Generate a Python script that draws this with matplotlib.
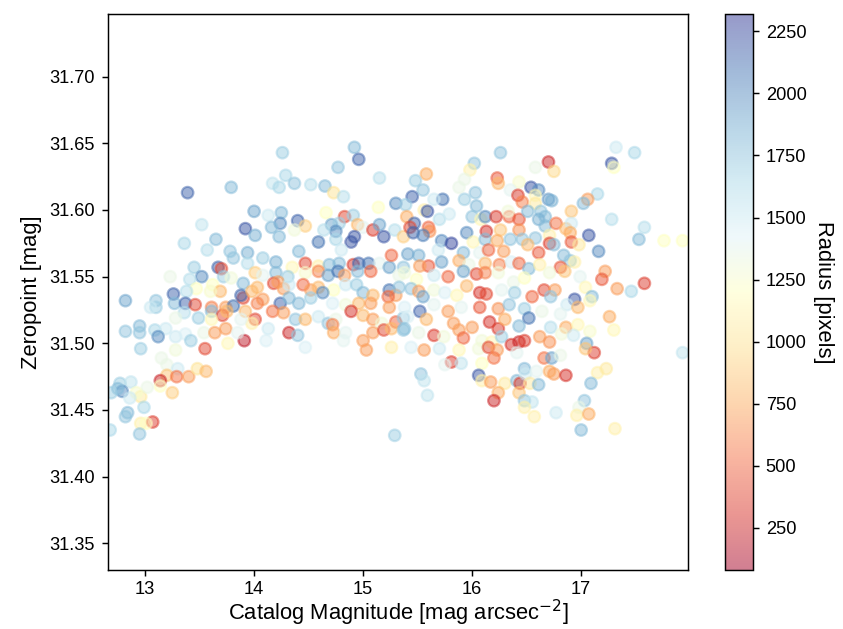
import matplotlib
matplotlib.use("Agg")
import matplotlib.pyplot as plt
import numpy as np

plt.rcParams["font.family"] = ["Liberation Sans", "DejaVu Sans"]

# catalog magnitude, zeropoint, radius, grouped by region
mag = [
    # upper left
    13.39, 13.79, 14.00, 13.52, 13.92, 14.01, 13.65, 13.36,
    14.92, 14.26, 14.96, 14.77, 14.29, 15.15, 14.17, 14.23, 14.37, 14.52, 14.65, 14.73, 14.82,
    15.30, 15.14, 14.25, 14.13, 14.40, 14.24, 14.16, 14.47, 14.37, 14.66, 14.83, 14.91, 14.71,
    14.78, 14.95, 15.00, 15.09, 15.15, 14.75, 14.64, 15.29, 14.23, 14.92, 14.75, 14.59, 14.89,
    15.19, 15.37,
    # upper middle
    16.26, 16.02, 16.70, 15.98, 16.58, 15.58, 16.23, 16.24, 15.93, 15.88, 16.43, 16.35, 15.48,
    15.55, 16.54, 16.61, 16.58, 16.42, 16.46, 16.58, 16.70, 16.03, 15.45, 15.73, 15.65, 15.93,
    15.39, 16.04, 15.56, 15.59, 15.70, 15.79, 16.00, 16.08, 16.12, 16.22, 16.34, 16.43, 16.33,
    16.51, 16.63, 16.67, 16.61, 16.67, 15.40, 15.47, 15.43, 15.60, 15.61, 15.46, 15.55, 15.95,
    16.13, 16.26, 16.43, 15.72, 15.81, 16.01, 16.12, 16.23, 16.35, 16.46, 16.58, 16.71,
    # upper right
    17.32, 17.49, 17.28, 17.30, 16.75, 17.15, 17.06, 17.02, 16.73, 16.91, 17.28, 17.58, 16.77,
    16.86, 16.91, 17.07, 16.90, 16.91, 17.53, 17.76, 17.93,
    # left
    13.57, 13.78, 13.94, 13.81, 13.45, 13.52, 13.67, 13.70, 13.41, 13.23, 13.72, 13.94, 14.01,
    13.90, 13.79, 13.62, 13.47, 13.38, 13.69, 13.60, 13.26, 12.82, 13.10, 13.27, 13.37, 13.46,
    13.61, 13.61, 13.10, 13.05, 13.74, 13.81, 13.90, 13.88, 13.98, 14.03, 13.71, 13.75, 13.92,
    13.36, 13.49, 13.61, 13.28, 14.01, 13.98, 13.88, 12.82, 12.95, 12.95, 13.09, 13.19, 13.12,
    13.28, 13.37, 13.42, 13.54, 13.64, 13.74, 13.76, 13.91, 13.55, 13.85, 12.96, 13.28,
    # lower left
    13.15, 13.20, 13.30, 13.20, 13.14, 13.29, 13.40, 13.48, 13.56, 13.25, 13.14, 12.77, 12.87,
    12.79, 12.75, 12.69, 12.96, 13.02, 12.92, 12.86, 12.99, 12.84, 12.82, 12.96, 13.07, 13.01,
    12.95, 12.68,
    # centre left
    14.41, 14.80, 14.20, 14.08, 14.47, 14.35, 14.59, 14.69, 14.78, 14.91, 14.96, 15.05, 15.15,
    15.24, 15.26, 15.37, 15.33, 14.59, 14.68, 14.77, 14.83, 14.95, 15.07, 14.20, 14.08, 14.31,
    14.47, 14.18, 14.22, 14.27, 14.32, 14.45, 14.52, 14.59, 14.73, 14.63, 14.84, 14.94, 15.00,
    15.09, 15.24, 15.30, 15.23, 15.33, 14.08, 14.03, 14.24, 14.32, 14.41, 14.52, 14.72, 14.84,
    14.96, 15.07, 15.24, 14.17, 14.27, 14.38, 14.47, 14.59, 14.68, 14.75, 14.89, 15.00, 15.09,
    15.17, 15.30, 15.37, 14.13, 14.32, 14.40, 14.72, 14.73, 14.84, 15.00, 15.09, 15.19, 15.26,
    15.37, 14.11, 14.47, 14.82, 15.03, 15.26, 15.29,
    # centre right
    15.41, 15.51, 15.69, 15.92, 16.07, 16.15, 16.29, 16.51, 16.61, 16.71, 15.72, 15.60, 15.52,
    15.88, 15.97, 16.12, 16.25, 16.36, 16.43, 16.52, 16.62, 15.92, 16.04, 16.12, 16.24, 15.38,
    15.49, 15.65, 15.78, 16.38, 16.48, 15.95, 16.07, 16.13, 15.44, 15.51, 15.55, 15.65, 15.75,
    15.86, 16.27, 16.39, 16.55, 16.66, 15.38, 15.52, 15.65, 15.78, 15.90, 16.07, 16.24, 16.34,
    16.48, 16.64, 15.41, 15.58, 15.83, 16.00, 16.16, 16.24, 16.30, 16.43, 16.52, 15.38, 15.51,
    15.65, 15.74, 15.88, 15.92, 16.09, 16.18, 16.27, 16.36, 16.43, 16.48, 16.62, 16.71, 15.44,
    15.56, 15.70, 15.88, 16.06, 16.15, 16.23,
    # lower centre
    15.81, 15.90, 15.75, 16.09, 16.20, 16.41, 16.66, 15.53, 15.56, 16.06, 16.09, 16.17, 16.30,
    16.41, 16.44, 16.48, 16.49, 16.53, 16.59, 16.61, 16.71, 16.24, 16.20, 16.43, 16.48, 16.55,
    16.48, 16.57, 15.59,
    # lower right
    16.73, 16.81, 16.75, 16.86, 17.15, 17.23, 17.09, 17.03, 16.98, 16.96, 17.07, 16.77, 17.00,
    17.31, 17.93,
    # right
    16.75, 16.98, 17.16, 16.84, 16.90, 16.94, 16.81, 16.85, 16.71, 16.99, 17.22, 17.19, 17.33,
    17.46, 17.58, 16.76, 17.04, 16.72, 16.94, 17.10, 17.08, 16.87, 16.97, 16.81, 17.26, 16.72,
    16.86, 16.97, 16.82, 16.93, 17.08, 17.30, 17.05, 17.12, 17.04,
]

zeropoint = [
    # upper left
    31.613, 31.617, 31.599, 31.589, 31.586, 31.581, 31.578, 31.575,
    31.647, 31.643, 31.638, 31.632, 31.626, 31.624, 31.620, 31.617, 31.620, 31.619, 31.618,
    31.613, 31.610, 31.605, 31.602, 31.598, 31.596, 31.592, 31.590, 31.587, 31.588, 31.585,
    31.598, 31.595, 31.596, 31.589, 31.590, 31.589, 31.587, 31.585, 31.589, 31.584, 31.585,
    31.585, 31.580, 31.580, 31.578, 31.576, 31.576, 31.580, 31.580,
    # upper middle
    31.643, 31.635, 31.636, 31.630, 31.632, 31.627, 31.624, 31.620, 31.623, 31.617, 31.621,
    31.615, 31.622, 31.615, 31.617, 31.615, 31.611, 31.611, 31.606, 31.605, 31.608, 31.613,
    31.610, 31.608, 31.608, 31.608, 31.604, 31.603, 31.600, 31.599, 31.593, 31.597, 31.595,
    31.593, 31.595, 31.595, 31.595, 31.593, 31.599, 31.599, 31.599, 31.595, 31.593, 31.588,
    31.595, 31.590, 31.587, 31.587, 31.584, 31.583, 31.581, 31.583, 31.584, 31.585, 31.585,
    31.577, 31.575, 31.576, 31.578, 31.577, 31.578, 31.578, 31.579, 31.581,
    # upper right
    31.647, 31.643, 31.635, 31.632, 31.629, 31.612, 31.608, 31.605, 31.607, 31.599, 31.593,
    31.587, 31.590, 31.586, 31.590, 31.581, 31.583, 31.576, 31.578, 31.577, 31.577,
    # left
    31.570, 31.569, 31.568, 31.564, 31.557, 31.550, 31.557, 31.556, 31.548, 31.550, 31.550,
    31.560, 31.553, 31.545, 31.549, 31.544, 31.541, 31.539, 31.539, 31.539, 31.537, 31.532,
    31.532, 31.530, 31.530, 31.529, 31.527, 31.524, 31.527, 31.527, 31.527, 31.528, 31.534,
    31.536, 31.539, 31.542, 31.521, 31.524, 31.524, 31.523, 31.519, 31.518, 31.519, 31.518,
    31.515, 31.518, 31.509, 31.513, 31.508, 31.510, 31.511, 31.505, 31.505, 31.507, 31.502,
    31.508, 31.508, 31.511, 31.500, 31.502, 31.496, 31.508, 31.496, 31.495,
    # lower left
    31.489, 31.484, 31.481, 31.476, 31.472, 31.475, 31.475, 31.481, 31.479, 31.463, 31.468,
    31.470, 31.471, 31.464, 31.466, 31.463, 31.460, 31.467, 31.463, 31.459, 31.452, 31.448,
    31.445, 31.440, 31.441, 31.440, 31.432, 31.435,
    # centre left
    31.569, 31.570, 31.561, 31.564, 31.560, 31.557, 31.558, 31.559, 31.560, 31.559, 31.560,
    31.560, 31.560, 31.557, 31.566, 31.557, 31.551, 31.554, 31.551, 31.554, 31.551, 31.554,
    31.554, 31.553, 31.551, 31.550, 31.553, 31.545, 31.546, 31.541, 31.544, 31.544, 31.540,
    31.542, 31.540, 31.538, 31.544, 31.544, 31.538, 31.536, 31.540, 31.536, 31.535, 31.542,
    31.533, 31.530, 31.530, 31.534, 31.530, 31.534, 31.530, 31.529, 31.530, 31.530, 31.527,
    31.524, 31.523, 31.518, 31.518, 31.520, 31.515, 31.518, 31.524, 31.521, 31.518, 31.515,
    31.516, 31.519, 31.511, 31.508, 31.506, 31.514, 31.508, 31.508, 31.502, 31.508, 31.510,
    31.511, 31.510, 31.502, 31.497, 31.502, 31.495, 31.497, 31.431,
    # centre right
    31.567, 31.566, 31.570, 31.568, 31.568, 31.570, 31.569, 31.574, 31.568, 31.575, 31.561,
    31.558, 31.558, 31.562, 31.559, 31.560, 31.559, 31.561, 31.560, 31.556, 31.559, 31.554,
    31.552, 31.553, 31.553, 31.553, 31.548, 31.551, 31.550, 31.546, 31.549, 31.543, 31.538,
    31.537, 31.541, 31.539, 31.535, 31.540, 31.538, 31.536, 31.540, 31.538, 31.535, 31.540,
    31.527, 31.524, 31.529, 31.524, 31.527, 31.527, 31.526, 31.529, 31.526, 31.524, 31.520,
    31.518, 31.515, 31.512, 31.516, 31.511, 31.518, 31.513, 31.519, 31.511, 31.508, 31.506,
    31.505, 31.510, 31.504, 31.502, 31.501, 31.505, 31.499, 31.501, 31.502, 31.505, 31.501,
    31.497, 31.495, 31.496, 31.495, 31.496, 31.497, 31.495,
    # lower centre
    31.486, 31.485, 31.484, 31.485, 31.489, 31.493, 31.489, 31.477, 31.472, 31.476, 31.472,
    31.471, 31.470, 31.472, 31.470, 31.481, 31.477, 31.470, 31.479, 31.469, 31.479, 31.463,
    31.457, 31.463, 31.457, 31.456, 31.452, 31.445, 31.461,
    # lower right
    31.489, 31.491, 31.477, 31.476, 31.478, 31.481, 31.470, 31.457, 31.452, 31.446, 31.447,
    31.448, 31.435, 31.436, 31.493,
    # right
    31.574, 31.574, 31.569, 31.566, 31.562, 31.561, 31.557, 31.554, 31.553, 31.550, 31.554,
    31.548, 31.541, 31.539, 31.545, 31.540, 31.542, 31.535, 31.533, 31.535, 31.532, 31.529,
    31.527, 31.522, 31.520, 31.512, 31.512, 31.514, 31.507, 31.506, 31.509, 31.510, 31.500,
    31.493, 31.496,
]

radius = [
    # upper left
    2150, 1800, 1900, 1550, 2200, 1850, 1800, 1650,
    1800, 1700, 2150, 1750, 1650, 1600, 1550, 1650, 1750, 1600, 1800, 1000, 1600, 2000, 1200,
    1800, 1500, 2150, 2000, 1800, 900, 1300, 1200, 400, 1700, 1900, 1700, 800, 1400, 350,
    1900, 2000, 1600, 1600, 1800, 2200, 1650, 2100, 2200, 2200, 900,
    # upper middle
    1750, 1750, 250, 1100, 1350, 750, 450, 800, 1350, 1350, 1250, 1400, 1700, 1750, 2200,
    2000, 1150, 350, 600, 1050, 1950, 1750, 2150, 2100, 1500, 1700, 1700, 1800, 1100, 2200,
    1600, 1500, 1750, 1150, 2000, 350, 500, 450, 1300, 1800, 1750, 1800, 1850, 1800, 750,
    2150, 400, 500, 650, 2150, 2050, 2000, 300, 850, 650, 2000, 2250, 1150, 1800, 750, 1750,
    1750, 1750, 1100,
    # upper right
    1500, 1650, 2200, 1200, 950, 1650, 700, 1800, 1850, 850, 1600, 1600, 550, 800, 1500,
    2200, 750, 450, 1800, 1200, 1200,
    # left
    1600, 1750, 1850, 1750, 1700, 2000, 2150, 400, 1600, 1350, 1700, 1600, 900, 1800, 1300,
    1200, 1200, 1600, 800, 1250, 2150, 1900, 1750, 1800, 2150, 400, 600, 1800, 1700, 1500,
    700, 2100, 400, 2150, 800, 800, 400, 800, 800, 1600, 1700, 1150, 1350, 400, 1100, 1400,
    1750, 1800, 1750, 1650, 1500, 2000, 1500, 1450, 1700, 1350, 700, 700, 1150, 200, 400,
    1400, 1700, 1300,
    # lower left
    1350, 1350, 1500, 850, 250, 550, 700, 1000, 800, 900, 1200, 1700, 1550, 2000, 1800, 1700,
    1050, 1350, 1250, 1500, 1650, 1800, 1750, 1100, 350, 1200, 1750, 1650,
    # centre left
    1800, 1500, 1850, 1700, 400, 1150, 1100, 1800, 1800, 350, 2150, 2100, 1400, 1900, 500,
    1750, 1350, 600, 1900, 2100, 700, 1800, 500, 1800, 1400, 1700, 1250, 400, 700, 700, 1500,
    500, 700, 800, 1200, 2000, 1500, 1700, 1800, 800, 2100, 700, 500, 1750, 700, 600, 2150,
    1800, 1800, 1700, 1450, 1300, 800, 700, 700, 550, 700, 1750, 800, 1500, 1750, 1350, 300,
    800, 700, 1300, 500, 1750, 1500, 250, 1750, 600, 750, 1400, 700, 700, 400, 800, 1750,
    1450, 1450, 1400, 700, 1100, 1700,
    # centre right
    1900, 1850, 1500, 1800, 1400, 500, 700, 800, 450, 350, 1900, 450, 700, 750, 1350, 800,
    600, 1450, 500, 1800, 1100, 1900, 400, 600, 1300, 1300, 1200, 1500, 500, 1350, 1200, 800,
    300, 400, 1750, 700, 1900, 1300, 1450, 1150, 1400, 1700, 500, 400, 1450, 2150, 1400, 700,
    1400, 450, 650, 1750, 1700, 1350, 1450, 800, 700, 700, 300, 350, 750, 1800, 2100, 1750,
    1350, 350, 1300, 700, 500, 1300, 1150, 1700, 300, 250, 350, 700, 650, 1450, 700, 1500,
    1150, 1300, 400, 700,
    # lower centre
    350, 1550, 1400, 1200, 550, 1400, 550, 1750, 1550, 2200, 1100, 700, 1050, 1800, 350, 1800,
    1500, 1050, 1400, 1800, 750, 750, 250, 850, 1750, 1550, 1100, 1100, 1550,
    # lower right
    1900, 1350, 700, 300, 1100, 1050, 1800, 1750, 1350, 1100, 750, 1500, 1800, 1100, 1550,
    # right
    1800, 1050, 2000, 1800, 1750, 1100, 450, 850, 1300, 1400, 700, 450, 700, 1650, 350, 700,
    1150, 1750, 2200, 1800, 1150, 1500, 800, 1400, 750, 1600, 750, 1150, 1300, 1500, 1250,
    1150, 1900, 350, 850,
]

yticks = [31.35, 31.40, 31.45, 31.50, 31.55, 31.60, 31.65, 31.70]
xticks = [13, 14, 15, 16, 17]
cbar_ticks = [250, 500, 750, 1000, 1250, 1500, 1750, 2000, 2250]

assert len(mag) == len(zeropoint) == len(radius), (len(mag), len(zeropoint), len(radius))

dpi = 131.72
fig = plt.figure(figsize=(843 / dpi, 629 / dpi), dpi=dpi)
ax = fig.add_axes([108 / 843, 1 - 570 / 629, 580 / 843, 556 / 629])
cax = fig.add_axes([725 / 843, 1 - 570 / 629, 28 / 843, 556 / 629])

# default face-coloured edge gives the darker ring seen on each marker
sc = ax.scatter(mag, zeropoint, c=radius, cmap="RdYlBu", vmin=80, vmax=2320,
                s=40, alpha=0.5, linewidths=1.2)

ax.set_xlim(12.66, 17.98)
ax.set_ylim(31.330, 31.747)
ax.set_xticks(xticks)
ax.set_yticks(yticks)
ax.set_yticklabels([f"{v:.2f}" for v in yticks])
ax.tick_params(labelsize=10)
ax.tick_params(axis="x", pad=2.5)
ax.set_xlabel("Catalog Magnitude [mag arcsec$^{-2}$]", fontsize=12, labelpad=0)
ax.set_ylabel("Zeropoint [mag]", fontsize=12)

cbar = fig.colorbar(sc, cax=cax)
cbar.set_ticks(cbar_ticks)
cbar.ax.tick_params(labelsize=10)
cbar.set_label("Radius [pixels]", rotation=270, labelpad=15, fontsize=12)

fig.savefig("out.png", dpi=dpi)
